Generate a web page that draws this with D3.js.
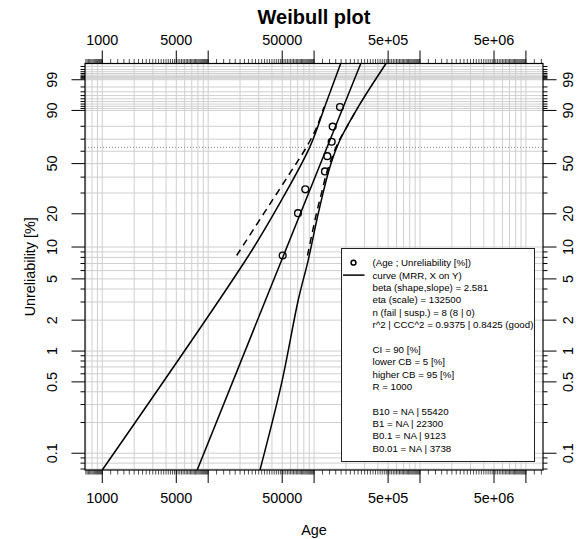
<!DOCTYPE html>
<html>
<head>
<meta charset="utf-8">
<script src="https://cdn.jsdelivr.net/npm/d3@7"></script>
<style>
body { margin: 0; background: #fff; }
text { font-family: "Liberation Sans", Arial, Helvetica, sans-serif; fill: #000; }
</style>
</head>
<body>
<svg width="581" height="539"></svg>
<script>

// failure data (age, unreliability %)
var ages = [50520, 70470, 82600, 126700, 133200, 146600, 149800, 175600];
var unrel = [8.33, 20.24, 32.14, 44.05, 55.95, 67.86, 79.76, 91.67];

// fitted weibull
var beta = 2.581, eta = 132500;

// confidence bounds, smooth curves (unreliability %, age)
var lowerP = [0.0685, 8.15, 24.83, 63.8, 92.6, 99.87];
var lowerAge = [1000, 23760, 47640, 91500, 127900, 178300];
var upperP = [0.0685, 0.489, 3.15, 7.59, 20.2, 47.6, 69.3, 91.8, 99.87];
var upperAge = [30840, 49430, 70940, 88150, 109600, 141300, 175600, 261500, 477500];

// bounds at the data ranks (dashed)
var lowerDashAge = [18580, 33640, 47140, 60530, 75200, 90500, 106500, 124000];
var upperDashAge = [86640, 105400, 120000, 132400, 149200, 170000, 204500, 259800];

// axes
var xLim = [687, 1.45e7], yLim = [0.0685, 99.87];
var xMajor = [1000, 5000, 10000, 50000, 1e5, 5e5, 1e6, 5e6, 1e7];
var xLabelVals = [1000, 5000, 50000, 5e5, 5e6];
var xLabelText = ["1000", "5000", "50000", "5e+05", "5e+06"];
var yMajor = [0.1, 0.5, 1, 2, 5, 10, 20, 50, 90, 99];
var yLabelText = ["0.1", "0.5", "1", "2", "5", "10", "20", "50", "90", "99"];
var yMinor = [0.07, 0.08, 0.09, 0.2, 0.3, 0.4, 0.6, 0.7, 0.8, 0.9,
  3, 4, 6, 7, 8, 9, 30, 40, 60, 70, 80,
  91, 92, 93, 94, 95, 96, 97, 98, 99.1, 99.2, 99.3, 99.4, 99.5, 99.6, 99.7, 99.8];

var legendText = [
  "(Age ; Unreliability [%])",
  "curve (MRR, X on Y)",
  "beta (shape,slope) = 2.581",
  "eta (scale) = 132500",
  "n (fail | susp.) = 8 (8 | 0)",
  "r^2 | CCC^2 = 0.9375 | 0.8425 (good)",
  "",
  "CI = 90 [%]",
  "lower CB  = 5 [%]",
  "higher CB = 95 [%]",
  "R = 1000",
  "",
  "B10 = NA | 55420",
  "B1 = NA | 22300",
  "B0.1 = NA | 9123",
  "B0.01 = NA | 3738"
];

var svg = d3.select("svg"),
    margin = {top: 63.5, right: 38, bottom: 69, left: 85},
    width = +svg.attr("width") - margin.left - margin.right,
    height = +svg.attr("height") - margin.top - margin.bottom;

function weib(p) { return Math.log(-Math.log(1 - p / 100)); }

var x = d3.scaleLog().domain(xLim).range([0, width]);
var yw = d3.scaleLinear().domain([weib(yLim[0]), weib(yLim[1])]).range([height, 0]);
var y = function(p) { return yw(weib(p)); };

var g = svg.append("g")
    .attr("transform", "translate(" + margin.left + "," + margin.top + ")");

svg.append("defs").append("clipPath")
    .attr("id", "clip")
  .append("rect")
    .attr("width", width)
    .attr("height", height);

// grid
var xGrid = [];
for (var d = 2; d <= 7; d++) {
  for (var k = 1; k <= 9; k++) {
    var v = k * Math.pow(10, d);
    if (v >= xLim[0] && v <= xLim[1]) xGrid.push(v);
  }
}
var yGrid = yMajor.concat(yMinor);

g.selectAll(".gx").data(xGrid).enter().append("line")
    .attr("x1", function(d) { return x(d); })
    .attr("x2", function(d) { return x(d); })
    .attr("y1", 0).attr("y2", height)
    .attr("stroke", "#cfcfcf").attr("stroke-width", 1);

g.selectAll(".gy").data(yGrid).enter().append("line")
    .attr("x1", 0).attr("x2", width)
    .attr("y1", function(d) { return y(d); })
    .attr("y2", function(d) { return y(d); })
    .attr("stroke", "#cfcfcf").attr("stroke-width", 1);

// characteristic life line (63.2%)
g.append("line")
    .attr("x1", 0).attr("x2", width)
    .attr("y1", yw(0)).attr("y2", yw(0))
    .attr("stroke", "#888").attr("stroke-width", 1)
    .attr("stroke-dasharray", "1,2");

// x ticks
var xMinor = [];
for (var d = 2; d <= 7; d++) {
  for (var i = 0; i < 45; i++) {
    var v = Math.pow(10, d) * (1 + 0.2 * i);
    if (v >= xLim[0] && v <= xLim[1]) xMinor.push(v);
  }
}

function xTicks(y0, dir) {
  g.selectAll(null).data(xMinor).enter().append("line")
      .attr("x1", function(d) { return x(d); })
      .attr("x2", function(d) { return x(d); })
      .attr("y1", y0).attr("y2", y0 + dir * 4.5)
      .attr("stroke", "#000").attr("stroke-width", 0.7);
  g.selectAll(null).data(xMajor).enter().append("line")
      .attr("x1", function(d) { return x(d); })
      .attr("x2", function(d) { return x(d); })
      .attr("y1", y0).attr("y2", y0 + dir * 13)
      .attr("stroke", "#000").attr("stroke-width", 1);
}
xTicks(0, -1);
xTicks(height, 1);

function xLabels(yy) {
  g.selectAll(null).data(xLabelVals).enter().append("text")
      .attr("x", function(d) { return x(d); })
      .attr("y", yy)
      .attr("text-anchor", "middle")
      .attr("dominant-baseline", "central")
      .style("font-size", "14.4px")
      .text(function(d, i) { return xLabelText[i]; });
}
xLabels(-24);
xLabels(height + 27.5);

// y ticks
function yTicks(x0, dir) {
  g.selectAll(null).data(yMinor).enter().append("line")
      .attr("x1", x0).attr("x2", x0 + dir * 4.5)
      .attr("y1", function(d) { return y(d); })
      .attr("y2", function(d) { return y(d); })
      .attr("stroke", "#000").attr("stroke-width", 1);
  g.selectAll(null).data(yMajor).enter().append("line")
      .attr("x1", x0).attr("x2", x0 + dir * 13.5)
      .attr("y1", function(d) { return y(d); })
      .attr("y2", function(d) { return y(d); })
      .attr("stroke", "#000").attr("stroke-width", 1);
}
yTicks(0, -1);
yTicks(width, 1);

function yLabels(xx) {
  g.selectAll(null).data(yMajor).enter().append("text")
      .attr("transform", function(d) { return "translate(" + xx + "," + y(d) + ") rotate(-90)"; })
      .attr("text-anchor", "middle")
      .attr("dominant-baseline", "central")
      .style("font-size", "14.4px")
      .text(function(d, i) { return yLabelText[i]; });
}
yLabels(-33);
yLabels(width + 25);

// lines
var plot = g.append("g").attr("clip-path", "url(#clip)");

var line = d3.line()
    .curve(d3.curveCatmullRom.alpha(0.5))
    .x(function(d) { return x(d[0]); })
    .y(function(d) { return y(d[1]); });

plot.append("path")
    .datum(lowerAge.map(function(a, i) { return [a, lowerP[i]]; }))
    .attr("d", line)
    .attr("fill", "none").attr("stroke", "#000").attr("stroke-width", 1.5);

plot.append("path")
    .datum(upperAge.map(function(a, i) { return [a, upperP[i]]; }))
    .attr("d", line)
    .attr("fill", "none").attr("stroke", "#000").attr("stroke-width", 1.5);

plot.append("path")
    .datum(lowerDashAge.map(function(a, i) { return [a, unrel[i]]; }))
    .attr("d", line)
    .attr("fill", "none").attr("stroke", "#000").attr("stroke-width", 1.5)
    .attr("stroke-dasharray", "7,5");

plot.append("path")
    .datum(upperDashAge.map(function(a, i) { return [a, unrel[i]]; }))
    .attr("d", line)
    .attr("fill", "none").attr("stroke", "#000").attr("stroke-width", 1.5)
    .attr("stroke-dasharray", "7,5");

// fitted line through the plot limits
var fitEnds = yLim.map(function(p) { return [eta * Math.exp(weib(p) / beta), p]; });
plot.append("path")
    .datum(fitEnds)
    .attr("d", d3.line().x(function(d) { return x(d[0]); }).y(function(d) { return y(d[1]); }))
    .attr("fill", "none").attr("stroke", "#000").attr("stroke-width", 1.5);

// points
plot.selectAll(".pt").data(ages).enter().append("circle")
    .attr("cx", function(d) { return x(d); })
    .attr("cy", function(d, i) { return y(unrel[i]); })
    .attr("r", 3.4)
    .attr("fill", "none").attr("stroke", "#000").attr("stroke-width", 1.4);

// border
g.append("rect")
    .attr("width", width).attr("height", height)
    .attr("fill", "none").attr("stroke", "#000").attr("stroke-width", 1.2);

// legend
var lg = svg.append("g").attr("transform", "translate(341.5,248.5)");
lg.append("rect")
    .attr("width", 193).attr("height", 213)
    .attr("fill", "#fff").attr("stroke", "#222").attr("stroke-width", 1);
lg.append("circle")
    .attr("cx", 12).attr("cy", 14.2).attr("r", 2.4)
    .attr("fill", "none").attr("stroke", "#000").attr("stroke-width", 1.5);
lg.append("line")
    .attr("x1", 1.5).attr("x2", 23).attr("y1", 26.6).attr("y2", 26.6)
    .attr("stroke", "#000").attr("stroke-width", 1.5);
lg.selectAll("text").data(legendText).enter().append("text")
    .attr("x", 31)
    .attr("y", function(d, i) { return 14.2 + i * 12.37; })
    .attr("dominant-baseline", "central")
    .style("font-size", "9.7px")
    .text(function(d) { return d; });

// titles
svg.append("text")
    .attr("x", margin.left + width / 2).attr("y", 17)
    .attr("text-anchor", "middle").attr("dominant-baseline", "central")
    .style("font-size", "20px").style("font-weight", "bold")
    .text("Weibull plot");

svg.append("text")
    .attr("x", margin.left + width / 2).attr("y", 530)
    .attr("text-anchor", "middle").attr("dominant-baseline", "central")
    .style("font-size", "14.4px")
    .text("Age");

svg.append("text")
    .attr("transform", "translate(30," + (margin.top + height / 2) + ") rotate(-90)")
    .attr("text-anchor", "middle").attr("dominant-baseline", "central")
    .style("font-size", "14.4px")
    .text("Unreliability [%]");

</script>
</body>
</html>
